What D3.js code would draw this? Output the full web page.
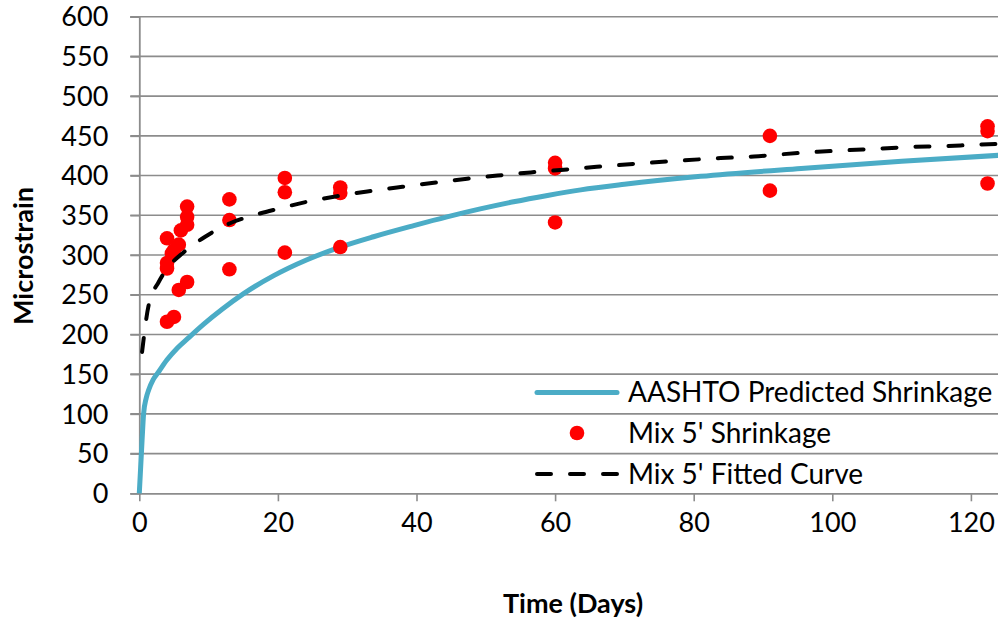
<!DOCTYPE html>
<html>
<head>
<meta charset="utf-8">
<script src="https://cdn.jsdelivr.net/npm/d3@7/dist/d3.min.js"></script>
<style>
  html, body { margin: 0; padding: 0; background: #fff; }
  svg { display: block; }
  text { font-family: Lato, "Open Sans", sans-serif; fill: #000; }
</style>
</head>
<body>
<svg id="chart" width="998" height="623"></svg>
<script>
// ---- data ----
const xTicks = [0, 20, 40, 60, 80, 100, 120];
const yTicks = [0, 50, 100, 150, 200, 250, 300, 350, 400, 450, 500, 550, 600];

const aashtoDays = [0, 0.15, 0.4, 0.62, 1, 1.35, 2, 2.8, 4, 5.5, 7, 9.3, 12, 15, 19.4, 24.2, 29, 33.8, 39.6, 44.4, 49.2, 54, 58.9, 63.7, 70, 81, 95.5, 110, 125];
const aashtoValues = [0, 25, 67, 100, 120, 130, 143, 153, 168, 183, 195, 213, 232, 251, 274, 294, 310, 323, 337, 348, 358, 367, 375, 382, 389, 399, 409, 418, 426];

const pointDays = [4, 4, 4, 4, 4.7, 5, 5, 5.7, 5.7, 6, 6.9, 6.9, 6.9, 6.9, 13, 13, 13, 21, 21, 21, 29, 29, 29, 60, 60, 60, 91, 91, 122.4, 122.4, 122.4];
const pointValues = [321, 290, 283, 216, 302, 306, 222, 313, 256, 331, 361, 348, 338, 266, 370, 344, 282, 397, 379, 303, 385, 378, 310, 416, 409, 341, 450, 381, 462, 456, 390];

const fitDays = [0.4, 1.35, 2.8, 4.7, 6.2, 9.5, 13.1, 16.5, 20.4, 24.2, 28.5, 32.9, 37.2, 42.5, 47.3, 51.7, 56.5, 60.8, 66, 75, 83.9, 88.7, 93, 97.9, 102.4, 107, 111.3, 116, 121, 125];
const fitValues = [178, 237, 266, 290, 302, 323, 340, 350, 359, 367, 374, 380, 385, 391, 396, 400, 404, 407, 411, 417, 422, 424, 427, 430, 432, 434, 436, 437, 439, 440];

const seriesNames = ["AASHTO Predicted Shrinkage", "Mix 5' Shrinkage", "Mix 5' Fitted Curve"];
const xTitle = "Time (Days)";
const yTitle = "Microstrain";

// ---- layout ----
const svg = d3.select("#chart");
const plotLeft = 139.3, plotBottom = 493.3, plotTop = 16.7;
const x = d3.scaleLinear().domain([0, 125]).range([plotLeft, plotLeft + 125 * 6.93]);
const y = d3.scaleLinear().domain([0, 600]).range([plotBottom, plotTop]);
const gridColor = "#8c8c8c";
const fontSize = 28;

// gridlines
svg.append("g").selectAll("line").data(yTicks.filter(d => d > 0)).join("line")
  .attr("x1", plotLeft - 9).attr("x2", 998)
  .attr("y1", d => y(d)).attr("y2", d => y(d))
  .attr("stroke", gridColor).attr("stroke-width", 1.6);

// y axis
const yAxis = d3.axisLeft(y).tickValues(yTicks).tickSize(9).tickPadding(22).tickFormat(d3.format("d"));
const gy = svg.append("g").attr("transform", `translate(${plotLeft},0)`).call(yAxis);
gy.select(".domain").attr("stroke", gridColor).attr("stroke-width", 1.8);
gy.selectAll(".tick line").attr("stroke", gridColor).attr("stroke-width", 1.6);
gy.selectAll(".tick text").attr("font-family", "Lato").attr("font-size", 27).attr("fill", "#000").attr("dy", "0.34em");

// x axis
const xAxis = d3.axisBottom(x).tickValues(xTicks).tickSize(8).tickPadding(12).tickFormat(d3.format("d"));
const gx = svg.append("g").attr("transform", `translate(0,${plotBottom})`).call(xAxis);
gx.select(".domain").attr("stroke", gridColor).attr("stroke-width", 1.8);
gx.selectAll(".tick line").attr("stroke", gridColor).attr("stroke-width", 1.6);
gx.selectAll(".tick text").attr("font-family", "Lato").attr("font-size", 27).attr("fill", "#000");
gx.select(".domain").attr("d", `M${plotLeft},0.5H998`);

// series
const aashto = aashtoDays.map((d, i) => [d, aashtoValues[i]]);
const fit = fitDays.map((d, i) => [d, fitValues[i]]);
const pts = pointDays.map((d, i) => [d, pointValues[i]]);

const line = d3.line().x(d => x(d[0])).y(d => y(d[1])).curve(d3.curveMonotoneX);

svg.append("path").datum(aashto).attr("d", line)
  .attr("fill", "none").attr("stroke", "#4BACC6").attr("stroke-width", 5).attr("stroke-linejoin", "round");

svg.append("g").selectAll("circle").data(pts).join("circle")
  .attr("cx", d => x(d[0])).attr("cy", d => y(d[1])).attr("r", 7.3)
  .attr("fill", "#FF0000");

svg.append("path").datum(fit).attr("d", line)
  .attr("fill", "none").attr("stroke", "#000").attr("stroke-width", 4)
  .attr("stroke-dasharray", "14,19").attr("stroke-linecap", "round");

// legend
const lg = svg.append("g");
const lx1 = 537, lx2 = 617, textX = 628;
const rowsY = [392.5, 433, 474];
lg.append("line").attr("x1", lx1).attr("x2", lx2).attr("y1", rowsY[0]).attr("y2", rowsY[0])
  .attr("stroke", "#4BACC6").attr("stroke-width", 5).attr("stroke-linecap", "round");
lg.append("circle").attr("cx", 577).attr("cy", rowsY[1]).attr("r", 7.3).attr("fill", "#FF0000");
lg.append("line").attr("x1", lx1).attr("x2", lx2 + 2).attr("y1", rowsY[2]).attr("y2", rowsY[2])
  .attr("stroke", "#000").attr("stroke-width", 4).attr("stroke-dasharray", "14,19").attr("stroke-linecap", "round");
lg.selectAll("text").data(seriesNames).join("text")
  .attr("x", textX).attr("y", (d, i) => rowsY[i]).attr("dy", "0.35em")
  .attr("font-size", fontSize).text(d => d);

// axis titles
svg.append("text").attr("x", 573).attr("y", 613).attr("text-anchor", "middle")
  .attr("font-size", 27).attr("font-weight", "bold").text(xTitle);
svg.append("text").attr("transform", "translate(33,256) rotate(-90)").attr("text-anchor", "middle")
  .attr("font-size", 27).attr("font-weight", "bold").text(yTitle);
</script>
</body>
</html>
